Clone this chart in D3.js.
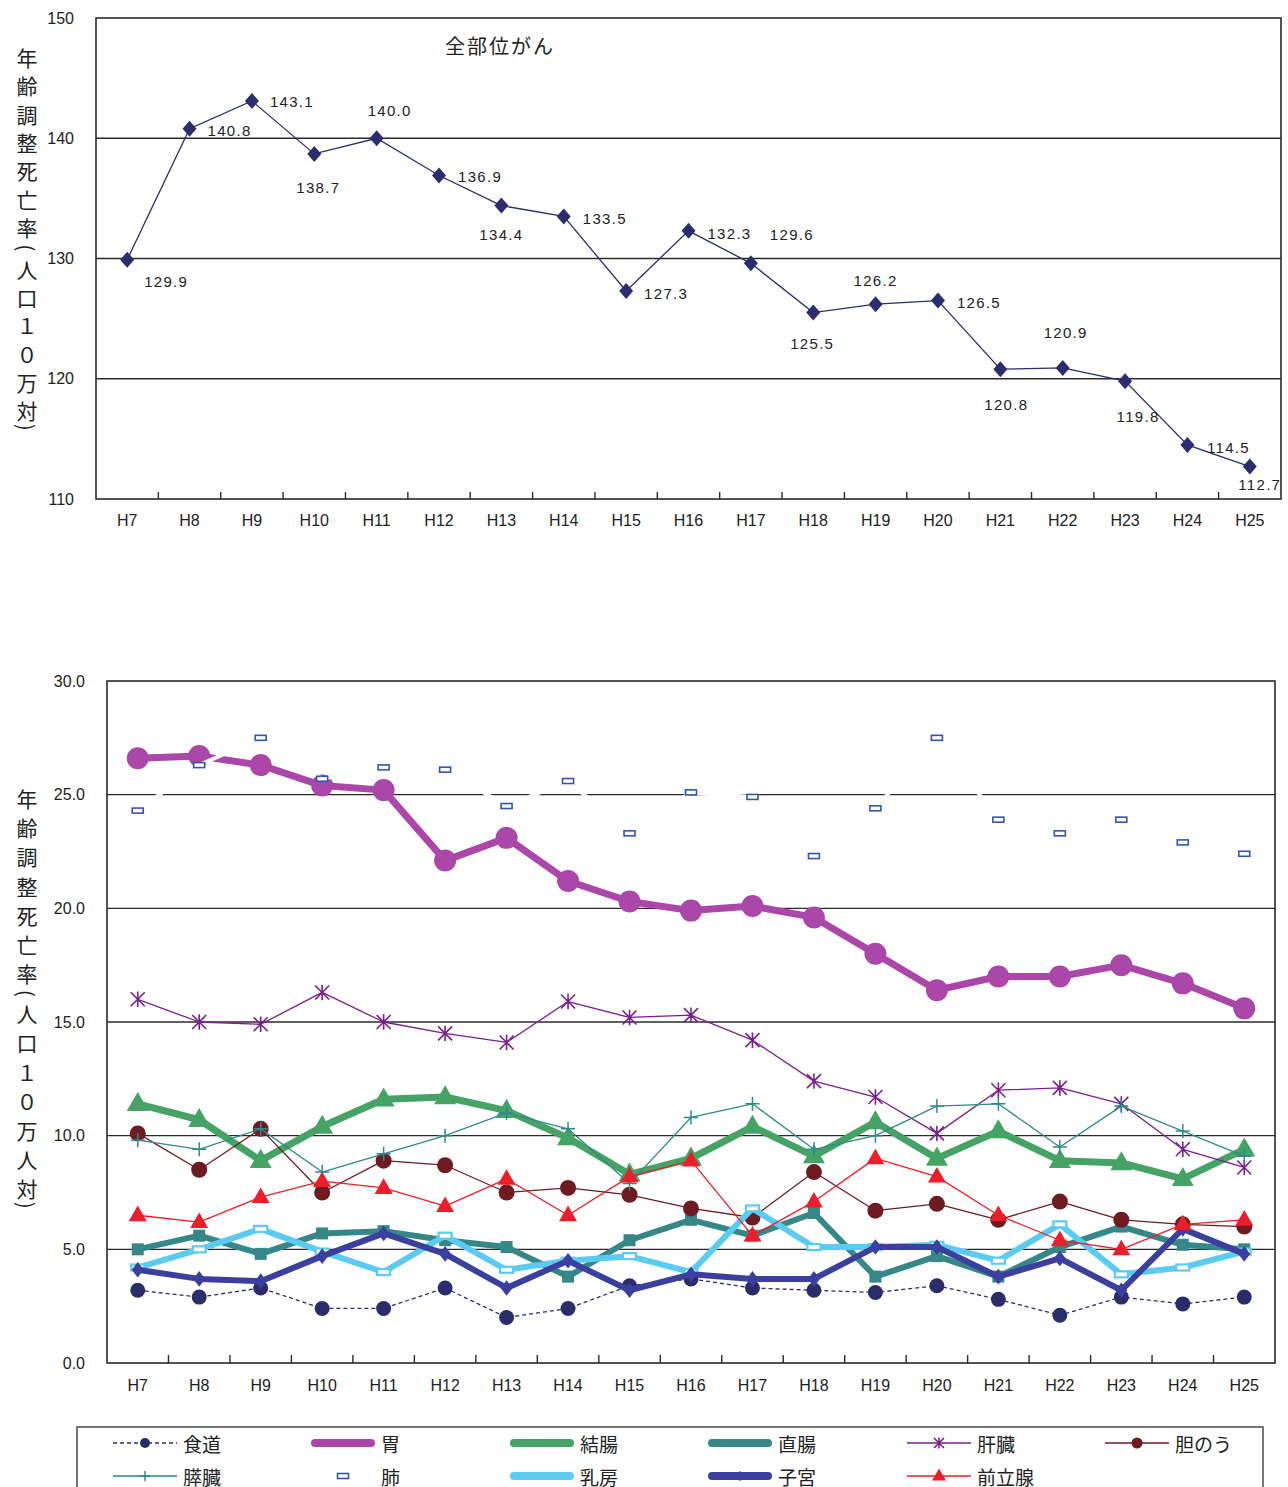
<!DOCTYPE html>
<html><head><meta charset="utf-8">
<script src="https://cdn.jsdelivr.net/npm/d3@7"></script>
<style>
body{margin:0;background:#fff}
svg text{font-family:"Liberation Sans",Arial,sans-serif;fill:#222}
.jp{font-family:"Noto Sans CJK JP","Noto Sans CJK SC",sans-serif}
</style>
</head><body>
<svg id="c" width="1288" height="1487"></svg>
<script>
// ---------- data ----------
const years = ["H7","H8","H9","H10","H11","H12","H13","H14","H15","H16","H17","H18","H19","H20","H21","H22","H23","H24","H25"];
const allSites = [129.9,140.8,143.1,138.7,140.0,136.9,134.4,133.5,127.3,132.3,129.6,125.5,126.2,126.5,120.8,120.9,119.8,114.5,112.7];
const allSitesLabelOffsets = [[39,22],[40,2],[40,1],[4,34],[13,-28],[41,1],[0,29],[41,2],[40,3],[41,3],[41,-29],[-1,31],[0,-24],[41,2],[6,35],[3,-35],[13,35],[41,3],[10,18]];
const topTicks = [110,120,130,140,150];
const bottomTicks = [0,5,10,15,20,25,30];

const esophagus   = [3.2,2.9,3.3,2.4,2.4,3.3,2.0,2.4,3.4,3.7,3.3,3.2,3.1,3.4,2.8,2.1,2.9,2.6,2.9];
const stomach     = [26.6,26.7,26.3,25.4,25.2,22.1,23.1,21.2,20.3,19.9,20.1,19.6,18.0,16.4,17.0,17.0,17.5,16.7,15.6];
const colon       = [11.4,10.7,8.9,10.4,11.6,11.7,11.1,9.9,8.3,9.0,10.4,9.1,10.6,9.0,10.2,8.9,8.8,8.1,9.4];
const rectum      = [5.0,5.6,4.8,5.7,5.8,5.4,5.1,3.8,5.4,6.3,5.6,6.6,3.8,4.7,3.8,5.1,6.0,5.2,5.0];
const liver       = [16.0,15.0,14.9,16.3,15.0,14.5,14.1,15.9,15.2,15.3,14.2,12.4,11.7,10.1,12.0,12.1,11.4,9.4,8.6];
const gallbladder = [10.1,8.5,10.3,7.5,8.9,8.7,7.5,7.7,7.4,6.8,6.4,8.4,6.7,7.0,6.3,7.1,6.3,6.1,6.0];
const pancreas    = [9.8,9.4,10.3,8.4,9.2,10.0,11.0,10.3,7.9,10.8,11.4,9.4,10.0,11.3,11.4,9.5,11.3,10.2,9.1];
const lung        = [24.3,26.3,27.5,25.7,26.2,26.1,24.5,25.6,23.3,25.1,24.9,22.3,24.4,27.5,23.9,23.3,23.9,22.9,22.4];
const breast      = [4.2,5.0,5.9,4.9,4.0,5.6,4.1,4.5,4.7,4.0,6.8,5.1,5.1,5.2,4.5,6.1,3.9,4.2,4.9];
const uterus      = [4.1,3.7,3.6,4.7,5.7,4.8,3.3,4.5,3.2,3.9,3.7,3.7,5.1,5.1,3.8,4.6,3.2,5.9,4.8];
const prostate    = [6.5,6.2,7.3,8.0,7.7,6.9,8.1,6.5,8.2,8.9,5.6,7.1,9.0,8.2,6.5,5.4,5.0,6.1,6.3];

const seriesNames = ["食道","胃","結腸","直腸","肝臓","胆のう","膵臓","肺","乳房","子宮","前立腺"];
const seriesValues = [esophagus,stomach,colon,rectum,liver,gallbladder,pancreas,lung,breast,uterus,prostate];

// ---------- styles ----------
const styles = {
  "食道":  {color:"#2B2D6B", width:1.3, dash:"4,3", marker:"circle", r:7.5},
  "胃":    {color:"#AA47A8", width:7, marker:"circle", r:11, lr:4},
  "結腸":  {color:"#45A366", width:7, marker:"triangle", r:22, lr:8},
  "直腸":  {color:"#368787", width:6, marker:"square", r:12, lr:7},
  "肝臓":  {color:"#7A1E8E", width:1.3, marker:"asterisk", r:7, lr:5},
  "胆のう":{color:"#6E1B21", width:1.3, marker:"circle", r:8, lr:5.5},
  "膵臓":  {color:"#2E8A8A", width:1.3, marker:"plus", r:7, lr:5},
  "肺":    {color:"#ffffff", width:4, marker:"lungrect", r:0, lr:0},
  "乳房":  {color:"#5BCBF2", width:6, marker:"hrect", r:0},
  "子宮":  {color:"#3B3F9E", width:6, marker:"diamond", r:6, lr:4},
  "前立腺":{color:"#EE1D2B", width:1.3, marker:"triangle", r:18, lr:14}
};

const svg = d3.select("#c");

function drawMarker(g, type, x, y, r, color) {
  if (type === "circle") {
    g.append("circle").attr("cx",x).attr("cy",y).attr("r",r).attr("fill",color);
  } else if (type === "triangle") {
    const h = r*0.866;
    g.append("path").attr("d",`M${x},${y-h*0.62}L${x+r/2},${y+h*0.38}L${x-r/2},${y+h*0.38}Z`).attr("fill",color);
  } else if (type === "square") {
    g.append("rect").attr("x",x-r/2).attr("y",y-r/2).attr("width",r).attr("height",r).attr("fill",color);
  } else if (type === "diamond") {
    g.append("path").attr("d",`M${x},${y-r*1.3}L${x+r},${y}L${x},${y+r*1.3}L${x-r},${y}Z`).attr("fill",color);
  } else if (type === "asterisk") {
    g.append("path").attr("d",`M${x-r},${y-r}L${x+r},${y+r}M${x-r},${y+r}L${x+r},${y-r}M${x},${y-r*1.1}L${x},${y+r*1.1}`)
      .attr("stroke",color).attr("stroke-width",1.6).attr("fill","none");
  } else if (type === "plus") {
    g.append("path").attr("d",`M${x-r},${y}L${x+r},${y}M${x},${y-r}L${x},${y+r}`)
      .attr("stroke",color).attr("stroke-width",1.5).attr("fill","none");
  } else if (type === "lungrect") {
    g.append("rect").attr("x",x-5.5).attr("y",y-2.5).attr("width",11).attr("height",5)
      .attr("fill","#fff").attr("stroke","#3355B0").attr("stroke-width",1.6);
  } else if (type === "hrect") {
    g.append("rect").attr("x",x-6.5).attr("y",y-3).attr("width",13).attr("height",6)
      .attr("fill","#fff").attr("stroke",color).attr("stroke-width",2.2);
  }
}

function vTitle(chars, x, y0, step, openStep, closeStep) {
  let y = y0, prev = null;
  chars.forEach((c, i) => {
    if (i > 0) {
      if (c === "(" || prev === "(") y += openStep;
      else if (c === ")") y += closeStep;
      else y += step;
    }
    if (c === "(" || c === ")") {
      svg.append("text").attr("class","jp").attr("transform",`translate(${x},${y}) rotate(90)`)
        .attr("text-anchor","middle").attr("dominant-baseline","central")
        .style("font-size","21px").text(c);
    } else {
      svg.append("text").attr("class","jp").attr("x",x).attr("y",y)
        .attr("text-anchor","middle").attr("dominant-baseline","central")
        .style("font-size","21px").text(c);
    }
    prev = c;
  });
}

// ---------- top chart ----------
{
  const L=96, R=1281, T=18, B=499;
  const x = d3.scaleBand().domain(years).range([L,R]);
  const y = d3.scaleLinear().domain([110,150]).range([B,T]);
  const g = svg.append("g");
  topTicks.forEach(t => {
    if (t>110 && t<150) g.append("line").attr("x1",L).attr("x2",R).attr("y1",y(t)).attr("y2",y(t)).attr("stroke","#2a2a2a").attr("stroke-width",1.4);
    g.append("text").attr("x",74).attr("y",y(t)).attr("text-anchor","end").attr("dominant-baseline","central").style("font-size","16px").text(t);
  });
  g.append("rect").attr("x",L).attr("y",T).attr("width",R-L).attr("height",B-T).attr("fill","none").attr("stroke","#2a2a2a").attr("stroke-width",1.6);
  years.forEach((yr,i) => {
    if (i>0) g.append("line").attr("x1",x(yr)).attr("x2",x(yr)).attr("y1",B).attr("y2",B-7).attr("stroke","#2a2a2a").attr("stroke-width",1.4);
    g.append("text").attr("x",x(yr)+x.bandwidth()/2).attr("y",520).attr("text-anchor","middle").attr("dominant-baseline","central").style("font-size","16px").text(yr);
  });
  const cx = (d,i) => x(years[i]) + x.bandwidth()/2;
  g.append("path").datum(allSites).attr("d", d3.line().x(cx).y(d=>y(d))).attr("fill","none").attr("stroke","#2B2D6E").attr("stroke-width",1.3);
  allSites.forEach((v,i) => {
    const px = cx(v,i), py = y(v);
    g.append("path").attr("d",`M${px},${py-8}L${px+7},${py}L${px},${py+8}L${px-7},${py}Z`).attr("fill","#2B2D6E");
    const o = allSitesLabelOffsets[i];
    g.append("text").attr("x",px+o[0]).attr("y",py+o[1]).attr("text-anchor","middle").attr("dominant-baseline","central")
      .style("font-size","15px").style("letter-spacing","1.3px").text(v.toFixed(1));
  });
  g.append("text").attr("class","jp").attr("x",445).attr("y",45).attr("dominant-baseline","central")
    .style("font-size","20px").style("letter-spacing","2px").text("全部位がん");
  vTitle(["年","齢","調","整","死","亡","率","(","人","口","１","０","万","対",")"], 27, 57, 28.3, 21, 17);
}

// ---------- bottom chart ----------
{
  const L=107, R=1275, T=681, B=1363;
  const x = d3.scaleBand().domain(years).range([L,R]);
  const y = d3.scaleLinear().domain([0,30]).range([B,T]);
  const g = svg.append("g");
  bottomTicks.forEach(t => {
    if (t>0 && t<30) g.append("line").attr("x1",L).attr("x2",R).attr("y1",y(t)).attr("y2",y(t)).attr("stroke","#2a2a2a").attr("stroke-width",1.4);
    g.append("text").attr("x",85).attr("y",y(t)).attr("text-anchor","end").attr("dominant-baseline","central").style("font-size","16px").text(t.toFixed(1));
  });
  g.append("rect").attr("x",L).attr("y",T).attr("width",R-L).attr("height",B-T).attr("fill","none").attr("stroke","#2a2a2a").attr("stroke-width",1.6);
  years.forEach((yr,i) => {
    if (i>0) g.append("line").attr("x1",x(yr)).attr("x2",x(yr)).attr("y1",B).attr("y2",B-8).attr("stroke","#2a2a2a").attr("stroke-width",1.4);
    g.append("text").attr("x",x(yr)+x.bandwidth()/2).attr("y",1385).attr("text-anchor","middle").attr("dominant-baseline","central").style("font-size","16px").text(yr);
  });
  const cx = (d,i) => x(years[i]) + x.bandwidth()/2;
  seriesNames.forEach((name, si) => {
    const s = styles[name], vals = seriesValues[si];
    const sg = g.append("g");
    sg.append("path").datum(vals).attr("d", d3.line().x(cx).y(d=>y(d)))
      .attr("fill","none").attr("stroke",s.color).attr("stroke-width",s.width)
      .attr("stroke-linejoin","round").attr("stroke-dasharray",s.dash||null);
    vals.forEach((v,i) => drawMarker(sg, s.marker, cx(v,i), y(v), s.r, s.color));
  });
  vTitle(["年","齢","調","整","死","亡","率","(","人","口","１","０","万","人","対",")"], 27, 798, 29.2, 20, 17);
}

// ---------- legend ----------
{
  const g = svg.append("g");
  g.append("rect").attr("x",77).attr("y",1427).attr("width",1186).attr("height",80).attr("fill","#fff").attr("stroke","#555").attr("stroke-width",1.6);
  const colX = [113,311,510,708,907,1105];
  const rowY = [1443,1476];
  seriesNames.forEach((name, i) => {
    const s = styles[name];
    const x0 = colX[i%6], yy = rowY[Math.floor(i/6)];
    const thick = s.width > 3;
    if (name !== "肺") {
      g.append("line").attr("x1",x0+(thick?4:0)).attr("x2",x0+64-(thick?4:0)).attr("y1",yy).attr("y2",yy)
        .attr("stroke",s.color).attr("stroke-width",thick?8:1.3).attr("stroke-linecap",thick?"round":"butt")
        .attr("stroke-dasharray",s.dash||null);
    }
    const mx = x0+32;
    if (name === "肺") drawMarker(g,"lungrect",mx,yy,0,"#3355B0");
    else if (name === "食道") drawMarker(g,"circle",mx,yy,5,s.color);
    else if (s.lr) drawMarker(g,s.marker,mx,yy,s.lr,s.color);
    g.append("text").attr("class","jp").attr("x",x0+70).attr("y",yy).attr("dominant-baseline","central")
      .style("font-size","19px").text(name);
  });
}
</script>
</body></html>
